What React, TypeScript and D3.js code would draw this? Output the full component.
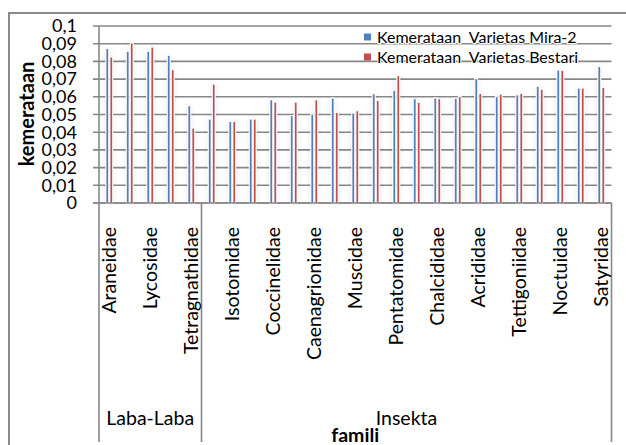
import React, { useEffect, useRef } from 'react';
import * as d3 from 'd3';

// 25 families, the source chart only prints every second label
const families = [
  'Araneidae', '', 'Lycosidae', '', 'Tetragnathidae',
  '', 'Isotomidae', '', 'Coccinelidae', '', 'Caenagrionidae', '', 'Muscidae',
  '', 'Pentatomidae', '', 'Chalcididae', '', 'Acrididae', '', 'Tettigoniidae',
  '', 'Noctuidae', '', 'Satyridae',
];
const groupNames = ['Laba-Laba', 'Insekta'];
const groupSizes = [5, 20];

const seriesNames = ['Kemerataan  Varietas Mira-2', 'Kemerataan  Varietas Bestari'];
const seriesColors = ['#4F81BD', '#C0504D'];

const mira2 = [
  0.087, 0.0855, 0.0855, 0.0832, 0.0547,
  0.0472, 0.0458, 0.0472, 0.0581, 0.0491, 0.05, 0.0591, 0.0506,
  0.0615, 0.0634, 0.0587, 0.0591, 0.0589, 0.07, 0.0598, 0.0609,
  0.0657, 0.0749, 0.0647, 0.0768,
];
const bestari = [
  0.0823, 0.0902, 0.0879, 0.0751, 0.0421,
  0.067, 0.0458, 0.0472, 0.0568, 0.0568, 0.0581, 0.0509, 0.0519,
  0.0577, 0.0717, 0.0566, 0.0587, 0.0598, 0.0617, 0.0613, 0.0617,
  0.064, 0.0747, 0.0647, 0.0651,
];
const yTicks = [0, 0.01, 0.02, 0.03, 0.04, 0.05, 0.06, 0.07, 0.08, 0.09, 0.1];

const W = 626;
const H = 445;
const FONT = 'Lato, "Open Sans", sans-serif';
const GRID = '#878787';

export default function App() {
  const ref = useRef<SVGSVGElement>(null);

  useEffect(() => {
    if (!ref.current) return;
    const svg = d3.select(ref.current);
    svg.selectAll('*').remove();

    const left = 99, right = 611.5, top = 26, bottom = 203, axisBottom = 442;

    const x0 = d3.scaleBand<number>()
      .domain(families.map((_, i) => i))
      .range([left, right]);
    const x1 = d3.scaleBand<number>()
      .domain([0, 1])
      .range([-3, 3])
      .paddingInner(0.5);
    const y = d3.scaleLinear().domain([0, 0.1]).range([bottom, top]);

    // glow round the thin bars
    const defs = svg.append('defs');
    const f = defs.append('filter').attr('id', 'glow')
      .attr('x', '-300%').attr('y', '-20%').attr('width', '700%').attr('height', '140%');
    f.append('feGaussianBlur').attr('in', 'SourceAlpha').attr('stdDeviation', 2.6).attr('result', 'blur');
    f.append('feFlood').attr('flood-color', '#000').attr('flood-opacity', 0.22).attr('result', 'col');
    f.append('feComposite').attr('in', 'col').attr('in2', 'blur').attr('operator', 'in').attr('result', 'shadow');
    f.append('feMorphology').attr('in', 'SourceAlpha').attr('operator', 'dilate').attr('radius', 1).attr('result', 'thick');
    f.append('feFlood').attr('flood-color', '#fff').attr('result', 'white');
    f.append('feComposite').attr('in', 'white').attr('in2', 'thick').attr('operator', 'in').attr('result', 'outline');
    const merge = f.append('feMerge');
    merge.append('feMergeNode').attr('in', 'shadow');
    merge.append('feMergeNode').attr('in', 'outline');
    merge.append('feMergeNode').attr('in', 'SourceGraphic');

    // chart frame (runs off the right and bottom edge)
    svg.append('rect')
      .attr('x', 9).attr('y', 13).attr('width', 700).attr('height', 500)
      .attr('fill', 'none').attr('stroke', '#8a8a8a').attr('stroke-width', 2);

    // gridlines
    svg.append('g').selectAll('line').data(yTicks).enter().append('line')
      .attr('x1', left - 6).attr('x2', right)
      .attr('y1', d => y(d)).attr('y2', d => y(d))
      .attr('stroke', GRID).attr('stroke-width', 1.6);

    // value axis
    svg.append('line')
      .attr('x1', left).attr('x2', left).attr('y1', top).attr('y2', bottom)
      .attr('stroke', GRID).attr('stroke-width', 1.6);

    svg.append('g').selectAll('text').data(yTicks).enter().append('text')
      .attr('x', 77).attr('y', d => y(d)).attr('dy', '0.35em')
      .attr('text-anchor', 'end')
      .attr('font-family', FONT).attr('font-size', 18).attr('fill', '#000')
      .text(d => d3.format('.2~f')(d).replace('.', ','));

    svg.append('text')
      .attr('transform', `translate(27,114) rotate(-90)`)
      .attr('dy', '0.35em')
      .attr('text-anchor', 'middle')
      .attr('font-family', FONT).attr('font-size', 20).attr('font-weight', 'bold')
      .text('kemerataan');

    // bars
    const series = [mira2, bestari];
    const bars = svg.append('g').attr('filter', 'url(#glow)');
    series.forEach((vals, s) => {
      bars.selectAll(`rect.s${s}`).data(vals).enter().append('rect')
        .attr('class', `s${s}`)
        .attr('x', (_, i) => x0(i)! + x0.bandwidth() / 2 + x1(s)!)
        .attr('width', x1.bandwidth())
        .attr('y', d => y(d))
        .attr('height', d => bottom - y(d))
        .attr('fill', seriesColors[s]);
    });

    // category axis
    svg.append('line')
      .attr('x1', left - 6).attr('x2', right).attr('y1', bottom).attr('y2', bottom)
      .attr('stroke', GRID).attr('stroke-width', 1.6);

    const bounds: number[] = [0];
    groupSizes.forEach(n => bounds.push(bounds[bounds.length - 1] + n));
    const bx = (k: number) => (k < families.length ? x0(k)! : right);
    svg.append('g').selectAll('line').data(bounds).enter().append('line')
      .attr('x1', d => bx(d)).attr('x2', d => bx(d))
      .attr('y1', bottom).attr('y2', axisBottom)
      .attr('stroke', GRID).attr('stroke-width', 1.6);

    svg.append('g').selectAll('text').data(families).enter().append('text')
      .attr('transform', (_, i) => `translate(${x0(i)! + x0.bandwidth() / 2},227) rotate(-90)`)
      .attr('dy', '0.35em')
      .attr('text-anchor', 'end')
      .attr('font-family', FONT).attr('font-size', 19.5).attr('fill', '#000')
      .text(d => d);

    svg.append('g').selectAll('text').data(groupNames).enter().append('text')
      .attr('x', (_, g) => (bx(bounds[g]) + bx(bounds[g + 1])) / 2)
      .attr('y', 425)
      .attr('text-anchor', 'middle')
      .attr('font-family', FONT).attr('font-size', 19.5).attr('fill', '#000')
      .text(d => d);

    svg.append('text')
      .attr('x', (left + right) / 2).attr('y', 442)
      .attr('text-anchor', 'middle')
      .attr('font-family', FONT).attr('font-size', 19.5).attr('font-weight', 'bold')
      .text('famili');

    // legend
    const lg = svg.append('g');
    seriesNames.forEach((name, s) => {
      const ly = 37 + s * 20;
      lg.append('rect')
        .attr('x', 364).attr('y', ly - 3.5).attr('width', 7).attr('height', 7)
        .attr('fill', seriesColors[s]);
      lg.append('text')
        .attr('x', 377).attr('y', ly).attr('dy', '0.35em')
        .attr('font-family', FONT).attr('font-size', 16).attr('fill', '#000')
        .attr('stroke', '#fff').attr('stroke-width', 2).attr('paint-order', 'stroke')
        .attr('xml:space', 'preserve')
        .style('white-space', 'pre')
        .text(name);
    });
  }, []);

  return (
    <svg
      ref={ref}
      width={W}
      height={H}
      style={{ position: 'absolute', left: 0, top: 0, background: '#fff' }}
    />
  );
}
